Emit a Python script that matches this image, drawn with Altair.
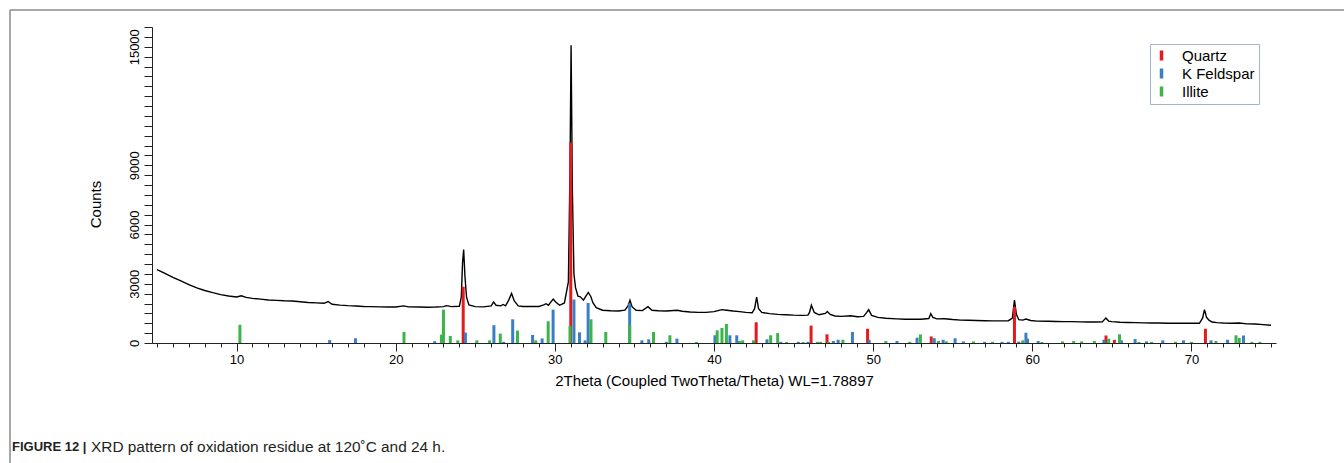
import altair as alt
import pandas as pd

# ---------------- data ----------------
two_theta = [5.0, 5.5, 6.0, 6.5, 7.0, 7.5, 8.0, 8.5, 9.0, 9.5, 10.0, 10.3, 10.6, 11.0, 11.5, 12.0,
             12.5, 13.0, 13.5, 14.0, 14.5, 15.0, 15.5, 15.75, 16.0, 16.5, 17.0, 17.5, 18.0, 18.5,
             19.0, 19.5, 20.0, 20.5, 20.8, 21.5, 22.0, 22.5, 23.0, 23.2, 23.5, 24.0, 24.12, 24.2,
             24.27, 24.35, 24.45, 24.6, 25.0, 25.5, 26.0, 26.15, 26.3, 26.6, 26.75, 26.9, 27.1,
             27.28, 27.45, 27.7, 28.0, 28.5, 29.0, 29.3, 29.45, 29.6, 29.8, 29.9, 30.05, 30.3,
             30.6, 30.85, 30.95, 31.02, 31.1, 31.2, 31.3, 31.45, 31.6, 31.8, 31.95, 32.1, 32.25,
             32.4, 32.6, 33.0, 33.5, 34.0, 34.4, 34.6, 34.72, 34.85, 35.1, 35.5, 35.85, 36.1,
             36.5, 37.0, 37.7, 38.0, 38.5, 39.0, 39.5, 40.0, 40.5, 40.8, 41.2, 41.6, 42.0, 42.4,
             42.55, 42.68, 42.8, 43.0, 43.5, 44.0, 44.5, 45.0, 45.5, 45.9, 46.0, 46.12, 46.3,
             46.6, 47.0, 47.12, 47.3, 47.6, 48.0, 48.6, 49.0, 49.4, 49.6, 49.72, 49.9, 50.3,
             50.8, 51.5, 52.0, 52.5, 53.0, 53.5, 53.62, 53.75, 54.0, 54.5, 55.0, 55.5, 56.0,
             56.5, 57.0, 57.5, 58.0, 58.5, 58.75, 58.88, 59.0, 59.15, 59.4, 59.6, 59.9, 60.3,
             61.0, 61.5, 62.0, 62.5, 63.0, 63.5, 64.0, 64.4, 64.62, 64.8, 65.0, 65.5, 66.0,
             66.5, 67.0, 67.5, 68.0, 68.5, 69.0, 69.5, 70.0, 70.5, 70.7, 70.82, 70.95, 71.1,
             71.3, 71.6, 72.0, 72.5, 73.0, 73.5, 74.0, 74.5, 75.0]
counts = [3720, 3520, 3320, 3140, 2960, 2790, 2660, 2550, 2450, 2380, 2330, 2390, 2310, 2260, 2220, 2180,
          2160, 2140, 2130, 2090, 2050, 2030, 2010, 2100, 1960, 1920, 1890, 1870, 1850, 1840,
          1830, 1820, 1820, 1880, 1830, 1820, 1810, 1820, 1840, 1890, 1840, 1860, 2320, 4060,
          4730, 3380, 2320, 1930, 1840, 1830, 1880, 2080, 1910, 1880, 1950, 1880, 2170,
          2510, 2130, 1880, 1850, 1850, 1850, 1930, 1990, 1910, 2130, 2220, 2080, 1910,
          2030, 3090, 8700, 15080, 7730, 3480, 2800, 2370, 2340, 2170, 2370, 2560, 2370,
          2030, 1790, 1660, 1630, 1620, 1660, 1880, 2170, 1840, 1660, 1640, 1840, 1660,
          1630, 1620, 1660, 1610, 1570, 1550, 1550, 1590, 1690, 1660, 1620, 1590, 1550, 1530,
          1740, 2320, 1740, 1550, 1490, 1450, 1430, 1410, 1400, 1410, 1550, 1910, 1550,
          1430, 1500, 1600, 1450, 1370, 1350, 1380, 1330, 1350, 1550, 1690, 1400, 1300,
          1250, 1220, 1200, 1210, 1200, 1240, 1490, 1300, 1220, 1230, 1190, 1160, 1150,
          1140, 1130, 1120, 1120, 1130, 1260, 2170, 1450, 1180, 1160, 1210, 1140, 1110,
          1100, 1090, 1080, 1080, 1070, 1060, 1060, 1070, 1260, 1110, 1080, 1050, 1040,
          1030, 1020, 1010, 1010, 1000, 1000, 1000, 1000, 1000, 1260, 1690, 1300, 1160,
          1060, 1030, 1010, 1000, 1010, 970, 960, 930, 900]

quartz_pos = [24.24, 31.0, 42.65, 46.1, 47.1, 49.65, 53.65, 58.88, 64.63, 65.16, 70.88]
quartz_int = [2850, 10150, 1050, 880, 440, 720, 330, 1830, 380, 160, 720]

kfeld_pos = [15.85, 17.47, 22.45, 24.38, 26.17, 26.78, 27.35, 28.6, 29.2, 29.89, 31.2, 31.55,
             31.9, 32.09, 34.7, 35.47, 35.9, 37.0, 37.67, 40.06, 41.0, 41.43, 43.33, 44.2, 45.3,
             45.9, 47.5, 47.8, 48.7, 49.75, 51.5, 52.76, 53.84, 54.4, 55.15, 55.67, 57.0, 58.1,
             58.5, 59.15, 59.6, 59.7, 60.37, 64.5, 65.6, 66.46, 67.18, 68.2, 69.5, 71.23, 72.27,
             73.27]
kfeld_int = [150, 240, 90, 530, 900, 60, 1200, 410, 230, 1690, 2200, 540,
             135, 2030, 1980, 135, 185, 60, 220, 390, 390, 390, 185, 60, 60,
             60, 100, 165, 560, 165, 100, 270, 240, 165, 240, 80, 60, 60,
             60, 70, 520, 220, 100, 165, 135, 200, 80, 135, 135, 135, 165,
             380]

illite_pos = [10.21, 20.52, 22.87, 23.0, 23.43, 23.9, 25.1, 25.9, 26.57, 27.65, 28.8, 29.58,
              30.95, 32.27, 33.2, 34.7, 36.2, 37.23, 38.9, 40.2, 40.5, 40.78, 41.6, 41.8, 42.48,
              43.56, 44.0, 44.56, 45.6, 46.5, 46.7, 47.2, 48.1, 50.8, 52.3, 52.97, 54.1, 54.6,
              56.3, 57.5, 59.4, 60.6, 61.9, 62.6, 63.1, 63.9, 64.8, 65.48, 66.7, 67.5, 69.0,
              70.0, 71.54, 72.8, 73.0, 73.8, 74.3]
illite_int = [920, 560, 425, 1690, 360, 135, 135, 135, 475, 630, 135, 1100,
              870, 1200, 560, 900, 560, 390, 50, 640, 765, 965, 100, 135, 135,
              390, 500, 50, 50, 60, 60, 50, 165, 100, 60, 435, 100, 80,
              80, 60, 135, 50, 80, 100, 80, 100, 220, 440, 60, 60, 60,
              60, 100, 390, 255, 60, 60]

phases = ["Quartz", "K Feldspar", "Illite"]
phase_colors = ["#e41a1c", "#3a7fc4", "#3cb44b"]

x_major_ticks = [10, 20, 30, 40, 50, 60, 70]
x_minor_ticks = list(range(5, 76))
y_ticks = list(range(0, 16001, 500))
y_labelled = [0, 3000, 6000, 9000, 15000]

x_title = "2Theta (Coupled TwoTheta/Theta) WL=1.78897"
y_title = "Counts"
caption_bold = "FIGURE 12 |"
caption_rest = "XRD pattern of oxidation residue at 120˚C and 24 h."

# ---------------- tables ----------------
pattern = pd.DataFrame({"two_theta": two_theta, "counts": counts})
sticks = pd.concat([
    pd.DataFrame({"pos": quartz_pos, "inten": quartz_int, "phase": phases[0]}),
    pd.DataFrame({"pos": kfeld_pos, "inten": kfeld_int, "phase": phases[1]}),
    pd.DataFrame({"pos": illite_pos, "inten": illite_int, "phase": phases[2]}),
], ignore_index=True)
one = pd.DataFrame({"k": [0]})

FONT = "Liberation Sans"
W, H = 1124, 316
LEFT, TOP = 152, 27

xscale = alt.Scale(domain=[5, 75], nice=False, zero=False)
yscale = alt.Scale(domain=[0, 16000], nice=False)

label_test = "indexof([" + ",".join(str(v) for v in y_labelled) + "], datum.value) >= 0 ? datum.label : ''"

y_axis = alt.Axis(values=y_ticks, labelExpr=label_test, format="d", labelOverlap=False,
                  tickSize=8, tickColor="#222", domainColor="#222", grid=False,
                  labelAngle=270, labelAlign="center", labelBaseline="bottom",
                  labelFontSize=13, labelFont=FONT, labelColor="black", labelPadding=3,
                  title=y_title, titleFont=FONT, titleFontSize=15, titleFontWeight="normal",
                  titleColor="black", titleAngle=270, titleAlign="center", titleBaseline="middle",
                  titleX=-57, titleY=177)

line = alt.Chart(pattern).mark_line(color="black", strokeWidth=1.4).encode(
    x=alt.X("two_theta:Q", scale=xscale,
            axis=alt.Axis(values=x_major_ticks, orient="bottom", tickSize=8, tickColor="#222",
                          domainColor="#222", grid=False, labelFontSize=13, labelFont=FONT,
                          labelColor="black", labelPadding=2, labelFlush=False,
                          title=x_title, titleFont=FONT, titleFontSize=15,
                          titleFontWeight="normal", titleColor="black",
                          titleBaseline="alphabetic", titleY=42)),
    y=alt.Y("counts:Q", scale=yscale, axis=y_axis),
)

bars = alt.Chart(sticks).mark_bar(size=3).encode(
    x=alt.X("pos:Q", scale=xscale,
            axis=alt.Axis(values=x_minor_ticks, orient="bottom", tickSize=4, tickColor="#222",
                          domain=False, labels=False, grid=False, title=None)),
    y=alt.Y("inten:Q", scale=yscale, axis=y_axis, stack=None),
    color=alt.Color("phase:N", scale=alt.Scale(domain=phases, range=phase_colors),
                    legend=alt.Legend(title=None, orient="none", legendX=998, legendY=17,
                                      symbolType="M-0.35,-1L0.35,-1L0.35,1L-0.35,1Z",
                                      symbolSize=100, symbolStrokeWidth=0,
                                      labelFontSize=15, labelFont=FONT, labelColor="black",
                                      labelOffset=13, padding=4, rowPadding=2,
                                      strokeColor="#a4b4d0", fillColor="white")),
    order=alt.Order("ord:Q"),
).transform_calculate(ord="indexof(['Quartz','K Feldspar','Illite'], datum.phase)")

frame_color = "#8a8a8a"
frame_top = alt.Chart(one).mark_rule(color=frame_color, strokeWidth=1.5).encode(
    x=alt.value(-142), x2=alt.value(1200), y=alt.value(-17))
frame_left = alt.Chart(one).mark_rule(color=frame_color, strokeWidth=1.5).encode(
    x=alt.value(-142), y=alt.value(-17), y2=alt.value(440))

cap1 = alt.Chart(one).mark_text(align="left", baseline="middle", font=FONT, fontSize=13,
                                fontWeight="bold", color="#231f20").encode(
    x=alt.value(-140), y=alt.value(420), text=alt.value(caption_bold))
cap2 = alt.Chart(one).mark_text(align="left", baseline="middle", font=FONT, fontSize=15.4,
                                color="#231f20").encode(
    x=alt.value(-61), y=alt.value(420), text=alt.value(caption_rest))

chart = alt.layer(line, bars, frame_top, frame_left, cap1, cap2).resolve_axis(
    x="independent"
).properties(
    width=W, height=H,
    padding={"left": LEFT, "top": TOP, "right": 1344 - LEFT - W, "bottom": 463 - TOP - H},
    autosize=alt.AutoSizeParams(type="none"),
    background="white",
).configure_view(stroke=None)

chart.save("out.html", embed_options={"renderer": "svg", "actions": False})
